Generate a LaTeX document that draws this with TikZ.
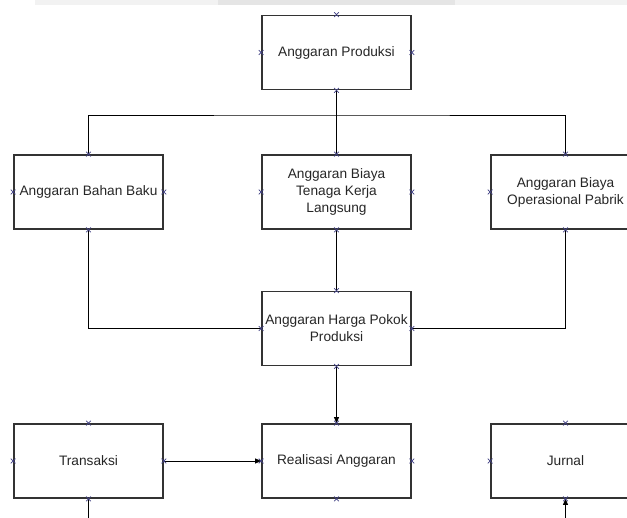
\documentclass[tikz,border=0pt]{standalone}
\usepackage{fontspec}
\setmainfont{Liberation Sans}
\usetikzlibrary{arrows.meta,shapes.misc,positioning}

\begin{document}
\begin{tikzpicture}[x=1pt,y=-1pt,
    box/.style={draw=black!80,line width=1.7pt,rectangle,minimum width=149pt,minimum height=74pt,
      inner sep=1pt,align=center,text=black!85,font=\fontsize{13.7}{17}\selectfont},
    link/.style={draw=black,line width=0.8pt},
    cpoint/.style={cross out,draw=blue!35!black!75,line width=0.7pt,minimum size=4pt,inner sep=0pt},
    >={Triangle[length=6pt,width=5pt]}]
  \useasboundingbox (0,0) rectangle (627,518);
  \clip (0,0) rectangle (627,518);
  \fill[black!5] (35,0) rectangle (627,5);
  \fill[black!10] (218,0) rectangle (455,5);

  \node[box] (prod) at (336.5,52.5) {Anggaran Produksi};
  \node[box] (bahan) at (88.5,192) {Anggaran Bahan Baku};
  \node[box] (tenaga) at (336.5,192) {Anggaran Biaya\\Tenaga Kerja\\Langsung};
  \node[box] (bop) at (565.5,192) {Anggaran Biaya\\Operasional Pabrik};
  \node[box] (hpp) at (336.5,328.5) {Anggaran Harga Pokok\\Produksi};
  \node[box] (trans) at (88.5,461) {Transaksi};
  \node[box] (real) at (336.5,461) {Realisasi Anggaran};
  \node[box] (jurnal) at (565.5,461) {Jurnal};

  \coordinate (bus) at (336.5,115);
  \coordinate (tout) at (88.5,518);
  \coordinate (jin) at (565.5,518);

  \draw [link] (prod.south) -- (tenaga.north);
  \draw [link] (bahan.north) |- (bus) -| (bop.north);
  \draw [link] (tenaga.south) -- (hpp.north);
  \draw [link] (bahan.south) |- (hpp.west);
  \draw [link] (bop.south) |- (hpp.east);
  \draw [link] [->] (hpp.south) -- (real.north);
  \draw [link] [->] (trans.east) -- (real.west);
  \draw [link] (trans.south) -- (tout);
  \draw [link] [->] (jin) -- (jurnal.south);

  \foreach \n in {prod,bahan,tenaga,bop,hpp,trans,real,jurnal}
    \foreach \a in {north,south,east,west}
      \node[cpoint] (\n-\a) at (\n.\a) {};
\end{tikzpicture}
\end{document}
